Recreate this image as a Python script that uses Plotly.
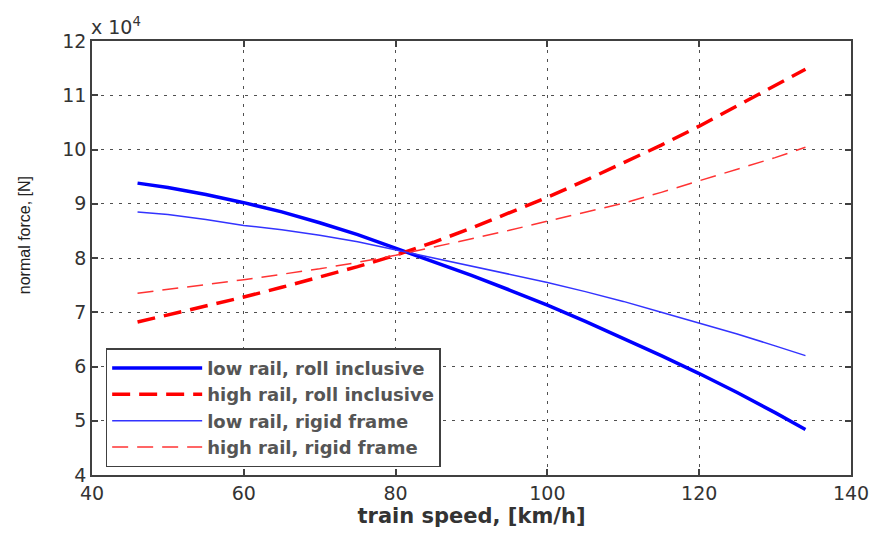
import plotly.graph_objects as go

speed = [46, 50, 55, 60, 65, 70, 75, 80, 85, 90, 95, 100, 105, 110, 115, 120, 125, 130, 134]
low_roll = [9.38, 9.30, 9.17, 9.02, 8.85, 8.65, 8.43, 8.18, 7.94, 7.68, 7.41, 7.13, 6.83, 6.52, 6.20, 5.87, 5.52, 5.15, 4.84]
high_roll = [6.82, 6.95, 7.11, 7.28, 7.46, 7.65, 7.84, 8.05, 8.29, 8.55, 8.83, 9.12, 9.43, 9.75, 10.08, 10.43, 10.80, 11.18, 11.48]
low_rigid = [8.85, 8.80, 8.71, 8.60, 8.52, 8.42, 8.30, 8.15, 8.00, 7.85, 7.70, 7.55, 7.38, 7.20, 7.00, 6.80, 6.60, 6.38, 6.20]
high_rigid = [7.35, 7.42, 7.51, 7.60, 7.70, 7.80, 7.92, 8.05, 8.20, 8.35, 8.51, 8.68, 8.84, 9.01, 9.21, 9.42, 9.63, 9.85, 10.04]

series_names = ["low rail, roll inclusive", "high rail, roll inclusive",
                "low rail, rigid frame", "high rail, rigid frame"]
x_ticks = [40, 60, 80, 100, 120, 140]
y_ticks = [4, 5, 6, 7, 8, 9, 10, 11, 12]

fig = go.Figure()
fig.add_trace(go.Scatter(x=speed, y=low_roll, mode="lines", name=series_names[0],
                         line=dict(color="#0000ff", width=3.5)))
fig.add_trace(go.Scatter(x=speed, y=high_roll, mode="lines", name=series_names[1],
                         line=dict(color="#ff0000", width=3.5, dash="18px,9px")))
fig.add_trace(go.Scatter(x=speed, y=low_rigid, mode="lines", name=series_names[2],
                         line=dict(color="#3333ff", width=1.5)))
fig.add_trace(go.Scatter(x=speed, y=high_rigid, mode="lines", name=series_names[3],
                         line=dict(color="#ff3333", width=1.5, dash="16px,9px")))

axis_common = dict(
    showline=True, linecolor="#404040", linewidth=1.5, mirror="ticks",
    ticks="inside", ticklen=6, tickcolor="#404040", tickwidth=1.5,
    showgrid=True, gridcolor="#505050", gridwidth=1, griddash="3px,6px",
    zeroline=False,
    tickfont=dict(family="DejaVu Sans", size=19, color="#333333"),
)

fig.update_xaxes(range=[40, 140], tickvals=x_ticks,
                 title=dict(text="<b>train speed, [km/h]</b>", standoff=3,
                            font=dict(family="DejaVu Sans", size=21, color="#333333")),
                 **axis_common)
fig.update_yaxes(range=[4, 12], tickvals=y_ticks, **axis_common)

fig.add_annotation(text="normal force, [N]", xref="paper", yref="paper",
                   x=-0.088, y=0.553, textangle=-90, showarrow=False,
                   xanchor="center", yanchor="middle",
                   font=dict(family="Liberation Sans", size=16, color="#222222"))

fig.add_annotation(text="x 10<sup>4</sup>", xref="paper", yref="paper", x=0, y=1,
                   xanchor="left", yanchor="bottom", showarrow=False, yshift=1, xshift=-3,
                   font=dict(family="DejaVu Sans", size=19, color="#333333"))

fig.update_layout(
    width=881, height=533,
    margin=dict(l=92, r=24, t=41, b=53),
    plot_bgcolor="white", paper_bgcolor="white",
    legend=dict(x=0.018, y=0.018, xanchor="left", yanchor="bottom",
                bgcolor="white", bordercolor="#404040", borderwidth=1.5,
                itemwidth=90, tracegroupgap=0,
                font=dict(family="DejaVu Sans", size=18, color="#555555", weight="bold")),
)

fig.write_html("out.html")
